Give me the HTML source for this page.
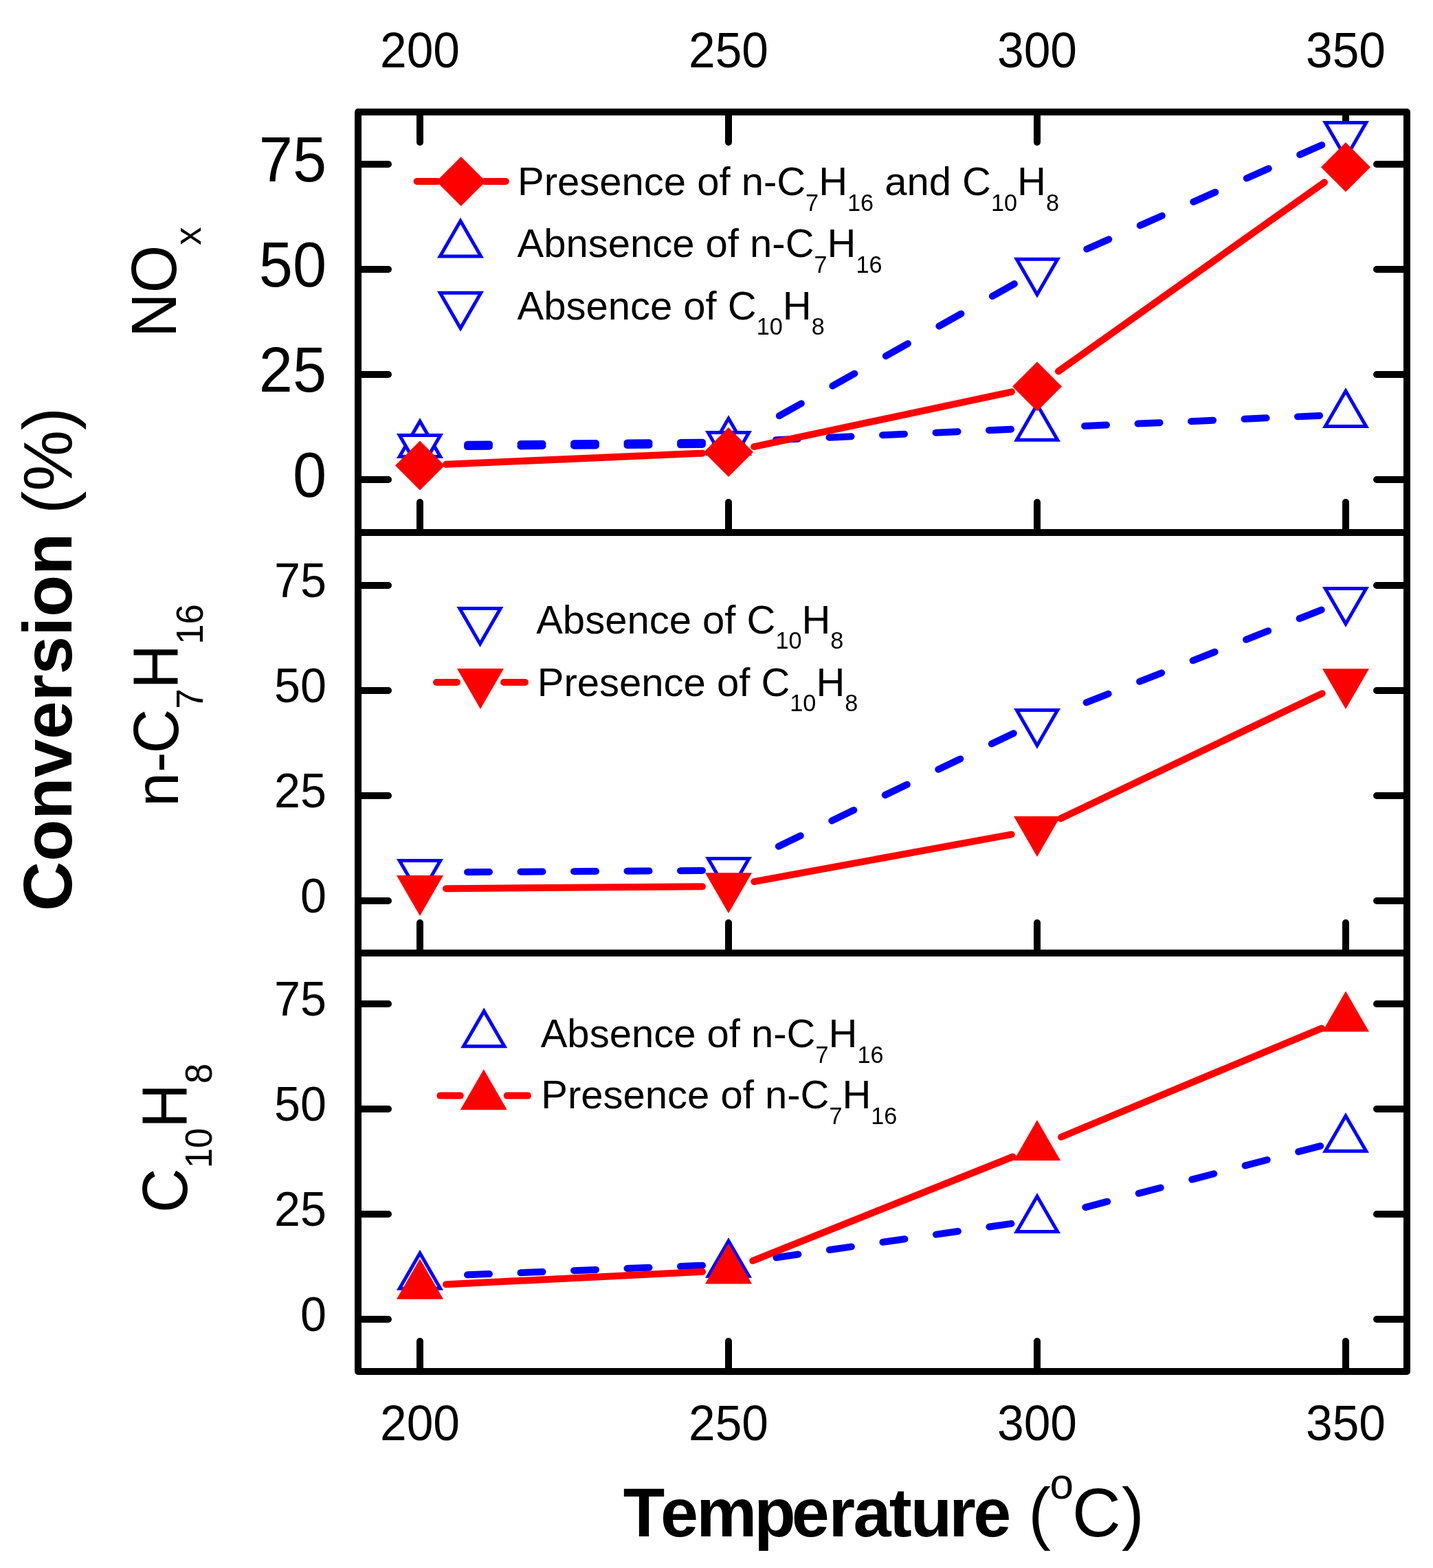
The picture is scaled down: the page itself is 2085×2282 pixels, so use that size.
<!DOCTYPE html>
<html><head><meta charset="utf-8"><title>Conversion vs Temperature</title>
<style>html,body{margin:0;padding:0;background:#fff;}svg{display:block;}</style>
</head><body>
<svg width="2085" height="2282" viewBox="0 0 2085 2282">
<rect x="0" y="0" width="2085" height="2282" fill="#ffffff"/>
<g stroke="#000" stroke-width="10" fill="none">
<rect x="521" y="163" width="1526" height="1833" stroke-linejoin="round"/>
<line x1="521" y1="775" x2="2047" y2="775"/>
<line x1="521" y1="1387" x2="2047" y2="1387"/>
<line x1="611" y1="163" x2="611" y2="207" stroke-linecap="round"/>
<line x1="611" y1="775" x2="611" y2="731" stroke-linecap="round"/>
<line x1="611" y1="1387" x2="611" y2="1343" stroke-linecap="round"/>
<line x1="611" y1="1996" x2="611" y2="1952" stroke-linecap="round"/>
<line x1="1060" y1="163" x2="1060" y2="207" stroke-linecap="round"/>
<line x1="1060" y1="775" x2="1060" y2="731" stroke-linecap="round"/>
<line x1="1060" y1="1387" x2="1060" y2="1343" stroke-linecap="round"/>
<line x1="1060" y1="1996" x2="1060" y2="1952" stroke-linecap="round"/>
<line x1="1509" y1="163" x2="1509" y2="207" stroke-linecap="round"/>
<line x1="1509" y1="775" x2="1509" y2="731" stroke-linecap="round"/>
<line x1="1509" y1="1387" x2="1509" y2="1343" stroke-linecap="round"/>
<line x1="1509" y1="1996" x2="1509" y2="1952" stroke-linecap="round"/>
<line x1="1958" y1="163" x2="1958" y2="207" stroke-linecap="round"/>
<line x1="1958" y1="775" x2="1958" y2="731" stroke-linecap="round"/>
<line x1="1958" y1="1387" x2="1958" y2="1343" stroke-linecap="round"/>
<line x1="1958" y1="1996" x2="1958" y2="1952" stroke-linecap="round"/>
<line x1="521" y1="698" x2="565" y2="698" stroke-linecap="round"/>
<line x1="2047" y1="698" x2="2003" y2="698" stroke-linecap="round"/>
<line x1="521" y1="545" x2="565" y2="545" stroke-linecap="round"/>
<line x1="2047" y1="545" x2="2003" y2="545" stroke-linecap="round"/>
<line x1="521" y1="392" x2="565" y2="392" stroke-linecap="round"/>
<line x1="2047" y1="392" x2="2003" y2="392" stroke-linecap="round"/>
<line x1="521" y1="239" x2="565" y2="239" stroke-linecap="round"/>
<line x1="2047" y1="239" x2="2003" y2="239" stroke-linecap="round"/>
<line x1="521" y1="1311" x2="565" y2="1311" stroke-linecap="round"/>
<line x1="2047" y1="1311" x2="2003" y2="1311" stroke-linecap="round"/>
<line x1="521" y1="1158" x2="565" y2="1158" stroke-linecap="round"/>
<line x1="2047" y1="1158" x2="2003" y2="1158" stroke-linecap="round"/>
<line x1="521" y1="1005" x2="565" y2="1005" stroke-linecap="round"/>
<line x1="2047" y1="1005" x2="2003" y2="1005" stroke-linecap="round"/>
<line x1="521" y1="852" x2="565" y2="852" stroke-linecap="round"/>
<line x1="2047" y1="852" x2="2003" y2="852" stroke-linecap="round"/>
<line x1="521" y1="1920" x2="565" y2="1920" stroke-linecap="round"/>
<line x1="2047" y1="1920" x2="2003" y2="1920" stroke-linecap="round"/>
<line x1="521" y1="1767" x2="565" y2="1767" stroke-linecap="round"/>
<line x1="2047" y1="1767" x2="2003" y2="1767" stroke-linecap="round"/>
<line x1="521" y1="1614" x2="565" y2="1614" stroke-linecap="round"/>
<line x1="2047" y1="1614" x2="2003" y2="1614" stroke-linecap="round"/>
<line x1="521" y1="1461" x2="565" y2="1461" stroke-linecap="round"/>
<line x1="2047" y1="1461" x2="2003" y2="1461" stroke-linecap="round"/>
</g>
<g>
<line x1="1022" y1="643.64" x2="649" y2="646.96" stroke="#0000ff" stroke-width="10" stroke-linecap="round" stroke-dasharray="32 45.5"/>
<line x1="1471.04" y1="624.72" x2="1097.96" y2="641.58" stroke="#0000ff" stroke-width="10" stroke-linecap="round" stroke-dasharray="32.03 45.55"/>
<line x1="1920.04" y1="604.97" x2="1546.96" y2="621.33" stroke="#0000ff" stroke-width="10" stroke-linecap="round" stroke-dasharray="32.03 45.54"/>
<path d="M611 613L640.7 664.45L581.3 664.45Z" fill="#fff" stroke="#0000ff" stroke-width="5" stroke-linejoin="miter"/>
<path d="M1060 609L1089.7 660.45L1030.3 660.45Z" fill="#fff" stroke="#0000ff" stroke-width="5" stroke-linejoin="miter"/>
<path d="M1509 588.7L1538.7 640.15L1479.3 640.15Z" fill="#fff" stroke="#0000ff" stroke-width="5" stroke-linejoin="miter"/>
<path d="M1958 569L1987.7 620.45L1928.3 620.45Z" fill="#fff" stroke="#0000ff" stroke-width="5" stroke-linejoin="miter"/>
<line x1="1022" y1="647.04" x2="649" y2="650.36" stroke="#0000ff" stroke-width="10" stroke-linecap="round" stroke-dasharray="32 45.5"/>
<line x1="1475.87" y1="413.11" x2="1093.13" y2="628.09" stroke="#0000ff" stroke-width="10" stroke-linecap="round" stroke-dasharray="36.7 52.19"/>
<line x1="1923.26" y1="210.99" x2="1543.74" y2="379.11" stroke="#0000ff" stroke-width="10" stroke-linecap="round" stroke-dasharray="35 49.76"/>
<path d="M611 685L640.7 633.55L581.3 633.55Z" fill="#fff" stroke="#0000ff" stroke-width="5" stroke-linejoin="miter"/>
<path d="M1060 681L1089.7 629.55L1030.3 629.55Z" fill="#fff" stroke="#0000ff" stroke-width="5" stroke-linejoin="miter"/>
<path d="M1509 428.8L1538.7 377.35L1479.3 377.35Z" fill="#fff" stroke="#0000ff" stroke-width="5" stroke-linejoin="miter"/>
<path d="M1958 229.9L1987.7 178.45L1928.3 178.45Z" fill="#fff" stroke="#0000ff" stroke-width="5" stroke-linejoin="miter"/>
<line x1="648.96" y1="675.76" x2="1022.04" y2="659.64" stroke="#ff0000" stroke-width="10" stroke-linecap="round"/>
<line x1="1097.17" y1="650.09" x2="1471.83" y2="570.31" stroke="#ff0000" stroke-width="10" stroke-linecap="round"/>
<line x1="1539.97" y1="540.39" x2="1927.03" y2="265.31" stroke="#ff0000" stroke-width="10" stroke-linecap="round"/>
<path d="M611 641.4L647 677.4L611 713.4L575 677.4Z" fill="#ff0000"/>
<path d="M1060 622L1096 658L1060 694L1024 658Z" fill="#ff0000"/>
<path d="M1509 526.4L1545 562.4L1509 598.4L1473 562.4Z" fill="#ff0000"/>
<path d="M1958 207.3L1994 243.3L1958 279.3L1922 243.3Z" fill="#ff0000"/>
<line x1="1022" y1="1266.95" x2="649" y2="1269.45" stroke="#0000ff" stroke-width="10" stroke-linecap="round" stroke-dasharray="32 45.5"/>
<line x1="1474.76" y1="1067.17" x2="1094.24" y2="1250.23" stroke="#0000ff" stroke-width="10" stroke-linecap="round" stroke-dasharray="35.51 50.49"/>
<line x1="1922.65" y1="887.64" x2="1544.35" y2="1036.76" stroke="#0000ff" stroke-width="10" stroke-linecap="round" stroke-dasharray="34.4 48.91"/>
<path d="M611 1304L640.7 1252.55L581.3 1252.55Z" fill="#fff" stroke="#0000ff" stroke-width="5" stroke-linejoin="miter"/>
<path d="M1060 1301L1089.7 1249.55L1030.3 1249.55Z" fill="#fff" stroke="#0000ff" stroke-width="5" stroke-linejoin="miter"/>
<path d="M1509 1085L1538.7 1033.55L1479.3 1033.55Z" fill="#fff" stroke="#0000ff" stroke-width="5" stroke-linejoin="miter"/>
<path d="M1958 908L1987.7 856.55L1928.3 856.55Z" fill="#fff" stroke="#0000ff" stroke-width="5" stroke-linejoin="miter"/>
<line x1="649" y1="1293.29" x2="1022" y2="1290.21" stroke="#ff0000" stroke-width="10" stroke-linecap="round"/>
<line x1="1097.38" y1="1283.05" x2="1471.62" y2="1214.45" stroke="#ff0000" stroke-width="10" stroke-linecap="round"/>
<line x1="1543.28" y1="1191.2" x2="1923.72" y2="1009.2" stroke="#ff0000" stroke-width="10" stroke-linecap="round"/>
<path d="M611 1332.9L645.03 1273.95L576.97 1273.95Z" fill="#ff0000"/>
<path d="M1060 1329.2L1094.03 1270.25L1025.97 1270.25Z" fill="#ff0000"/>
<path d="M1509 1246.9L1543.03 1187.95L1474.97 1187.95Z" fill="#ff0000"/>
<path d="M1958 1032.1L1992.03 973.15L1923.97 973.15Z" fill="#ff0000"/>
<line x1="1022.03" y1="1841.71" x2="648.97" y2="1856.59" stroke="#0000ff" stroke-width="10" stroke-linecap="round" stroke-dasharray="32.03 45.54"/>
<line x1="1471.39" y1="1780.83" x2="1097.61" y2="1834.77" stroke="#0000ff" stroke-width="10" stroke-linecap="round" stroke-dasharray="32.33 45.97"/>
<line x1="1921.23" y1="1667.8" x2="1545.77" y2="1765.8" stroke="#0000ff" stroke-width="10" stroke-linecap="round" stroke-dasharray="33.07 47.02"/>
<path d="M611 1823.8L640.7 1875.25L581.3 1875.25Z" fill="#fff" stroke="#0000ff" stroke-width="5" stroke-linejoin="miter"/>
<path d="M1060 1805.9L1089.7 1857.35L1030.3 1857.35Z" fill="#fff" stroke="#0000ff" stroke-width="5" stroke-linejoin="miter"/>
<path d="M1509 1741.1L1538.7 1792.55L1479.3 1792.55Z" fill="#fff" stroke="#0000ff" stroke-width="5" stroke-linejoin="miter"/>
<path d="M1958 1623.9L1987.7 1675.35L1928.3 1675.35Z" fill="#fff" stroke="#0000ff" stroke-width="5" stroke-linejoin="miter"/>
<line x1="648.95" y1="1869.32" x2="1022.05" y2="1850.78" stroke="#ff0000" stroke-width="10" stroke-linecap="round"/>
<line x1="1095.28" y1="1834.79" x2="1473.72" y2="1683.51" stroke="#ff0000" stroke-width="10" stroke-linecap="round"/>
<line x1="1544.07" y1="1654.76" x2="1922.93" y2="1496.54" stroke="#ff0000" stroke-width="10" stroke-linecap="round"/>
<path d="M611 1831.9L645.03 1890.85L576.97 1890.85Z" fill="#ff0000"/>
<path d="M1060 1809.6L1094.03 1868.55L1025.97 1868.55Z" fill="#ff0000"/>
<path d="M1509 1630.1L1543.03 1689.05L1474.97 1689.05Z" fill="#ff0000"/>
<path d="M1958 1442.6L1992.03 1501.55L1923.97 1501.55Z" fill="#ff0000"/>
</g>
<g>
<line x1="606.6" y1="264" x2="636.8" y2="264" stroke="#ff0000" stroke-width="10" stroke-linecap="round"/>
<line x1="704.8" y1="264" x2="735.9" y2="264" stroke="#ff0000" stroke-width="10" stroke-linecap="round"/>
<path d="M670.8 228L706.8 264L670.8 300L634.8 264Z" fill="#ff0000"/>
<path d="M670 321.6L699.7 373.05L640.3 373.05Z" fill="#fff" stroke="#0000ff" stroke-width="5" stroke-linejoin="miter"/>
<path d="M670 477.7L699.7 426.25L640.3 426.25Z" fill="#fff" stroke="#0000ff" stroke-width="5" stroke-linejoin="miter"/>
<path d="M698.5 937L728.2 885.55L668.8 885.55Z" fill="#fff" stroke="#0000ff" stroke-width="5" stroke-linejoin="miter"/>
<line x1="635" y1="993" x2="665" y2="993" stroke="#ff0000" stroke-width="10" stroke-linecap="round"/>
<line x1="733" y1="993" x2="764" y2="993" stroke="#ff0000" stroke-width="10" stroke-linecap="round"/>
<path d="M699 1031.9L733.03 972.95L664.97 972.95Z" fill="#ff0000"/>
<path d="M704.2 1471.4L733.9 1522.85L674.5 1522.85Z" fill="#fff" stroke="#0000ff" stroke-width="5" stroke-linejoin="miter"/>
<line x1="640.4" y1="1594.6" x2="669.8" y2="1594.6" stroke="#ff0000" stroke-width="10" stroke-linecap="round"/>
<line x1="737.8" y1="1594.6" x2="768" y2="1594.6" stroke="#ff0000" stroke-width="10" stroke-linecap="round"/>
<path d="M703.8 1556.3L737.83 1615.25L669.77 1615.25Z" fill="#ff0000"/>
</g>
<g font-family='"Liberation Sans", Arial, Helvetica, sans-serif' fill="#000">
<text transform="translate(611 97.8) scale(1 1.04)" font-size="69.5" text-anchor="middle">200</text>
<text transform="translate(611 2095.8) scale(1 1.04)" font-size="69.5" text-anchor="middle">200</text>
<text transform="translate(1060 97.8) scale(1 1.04)" font-size="69.5" text-anchor="middle">250</text>
<text transform="translate(1060 2095.8) scale(1 1.04)" font-size="69.5" text-anchor="middle">250</text>
<text transform="translate(1509 97.8) scale(1 1.04)" font-size="69.5" text-anchor="middle">300</text>
<text transform="translate(1509 2095.8) scale(1 1.04)" font-size="69.5" text-anchor="middle">300</text>
<text transform="translate(1958 97.8) scale(1 1.04)" font-size="69.5" text-anchor="middle">350</text>
<text transform="translate(1958 2095.8) scale(1 1.04)" font-size="69.5" text-anchor="middle">350</text>
<text transform="translate(475 722.8) scale(1 1.04)" font-size="88.3" text-anchor="end">0</text>
<text transform="translate(475 569.8) scale(1 1.04)" font-size="88.3" text-anchor="end">25</text>
<text transform="translate(475 416.8) scale(1 1.04)" font-size="88.3" text-anchor="end">50</text>
<text transform="translate(475 263.8) scale(1 1.04)" font-size="88.3" text-anchor="end">75</text>
<text transform="translate(475 1328) scale(1 1.04)" font-size="68.3" text-anchor="end">0</text>
<text transform="translate(475 1175) scale(1 1.04)" font-size="68.3" text-anchor="end">25</text>
<text transform="translate(475 1022) scale(1 1.04)" font-size="68.3" text-anchor="end">50</text>
<text transform="translate(475 869) scale(1 1.04)" font-size="68.3" text-anchor="end">75</text>
<text transform="translate(475 1937) scale(1 1.04)" font-size="68.3" text-anchor="end">0</text>
<text transform="translate(475 1784) scale(1 1.04)" font-size="68.3" text-anchor="end">25</text>
<text transform="translate(475 1631) scale(1 1.04)" font-size="68.3" text-anchor="end">50</text>
<text transform="translate(475 1478) scale(1 1.04)" font-size="68.3" text-anchor="end">75</text>
</g>
<g font-family='"Liberation Sans", Arial, Helvetica, sans-serif' fill="#000" font-size="58">
<text x="753" y="284.2" xml:space="preserve"><tspan>Presence of n-C</tspan><tspan font-size="34.22" dy="22.33">7</tspan><tspan dy="-22.33">H</tspan><tspan font-size="34.22" dy="22.33">16</tspan><tspan dy="-22.33"> and C</tspan><tspan font-size="34.22" dy="22.33">10</tspan><tspan dy="-22.33">H</tspan><tspan font-size="34.22" dy="22.33">8</tspan></text>
<text x="752.5" y="374.2" xml:space="preserve"><tspan>Abnsence of n-C</tspan><tspan font-size="34.22" dy="22.33">7</tspan><tspan dy="-22.33">H</tspan><tspan font-size="34.22" dy="22.33">16</tspan></text>
<text x="752.5" y="464.7" xml:space="preserve"><tspan>Absence of C</tspan><tspan font-size="34.22" dy="22.33">10</tspan><tspan dy="-22.33">H</tspan><tspan font-size="34.22" dy="22.33">8</tspan></text>
<text x="780.2" y="921.7" xml:space="preserve"><tspan>Absence of C</tspan><tspan font-size="34.22" dy="22.33">10</tspan><tspan dy="-22.33">H</tspan><tspan font-size="34.22" dy="22.33">8</tspan></text>
<text x="781.8" y="1013" xml:space="preserve"><tspan>Presence of C</tspan><tspan font-size="34.22" dy="22.33">10</tspan><tspan dy="-22.33">H</tspan><tspan font-size="34.22" dy="22.33">8</tspan></text>
<text x="786.7" y="1524.3" xml:space="preserve"><tspan>Absence of n-C</tspan><tspan font-size="34.22" dy="22.33">7</tspan><tspan dy="-22.33">H</tspan><tspan font-size="34.22" dy="22.33">16</tspan></text>
<text x="787.3" y="1613.4" xml:space="preserve"><tspan>Presence of n-C</tspan><tspan font-size="34.22" dy="22.33">7</tspan><tspan dy="-22.33">H</tspan><tspan font-size="34.22" dy="22.33">16</tspan></text>
</g>
<g font-family='"Liberation Sans", Arial, Helvetica, sans-serif' fill="#000">
<text transform="translate(256 491) rotate(-90) scale(1 1.04)" font-size="89.5"><tspan>NO</tspan><tspan font-size="52.8" dy="34.46">x</tspan></text>
<text transform="translate(259 1174) rotate(-90)" font-size="89.5">n-</text>
<text transform="translate(259 1096.43) rotate(-90) scale(1 1.04)" font-size="89.5"><tspan>C</tspan><tspan font-size="52.8" dy="34.46">7</tspan><tspan dy="-34.46">H</tspan><tspan font-size="52.8" dy="34.46">16</tspan></text>
<text transform="translate(272 1765) rotate(-90) scale(1 1.04)" font-size="89.5"><tspan>C</tspan><tspan font-size="52.8" dy="34.46">10</tspan><tspan dy="-34.46">H</tspan><tspan font-size="52.8" dy="34.46">8</tspan></text>
<text transform="translate(104 1326) rotate(-90)" font-size="100" xml:space="preserve"><tspan font-weight="bold">Conversion </tspan><tspan>(%)</tspan></text>
<text transform="translate(0 2236.3) scale(1 1.02)" font-size="99" font-weight="bold" x="906.79 961.03 1013.27 1097.27 1151.83 1205.47 1241.4 1293.79 1324.86 1381.37 1416.33" y="0">Temperature</text>
<text transform="translate(0 2236.3) scale(1 1.02)" font-size="98"><tspan x="1496.22" y="0">(</tspan><tspan x="1527.4" y="-54.5" font-size="62">o</tspan><tspan x="1560.02" y="0">C</tspan><tspan x="1632.04" y="0">)</tspan></text>
</g>
</svg>
</body></html>
